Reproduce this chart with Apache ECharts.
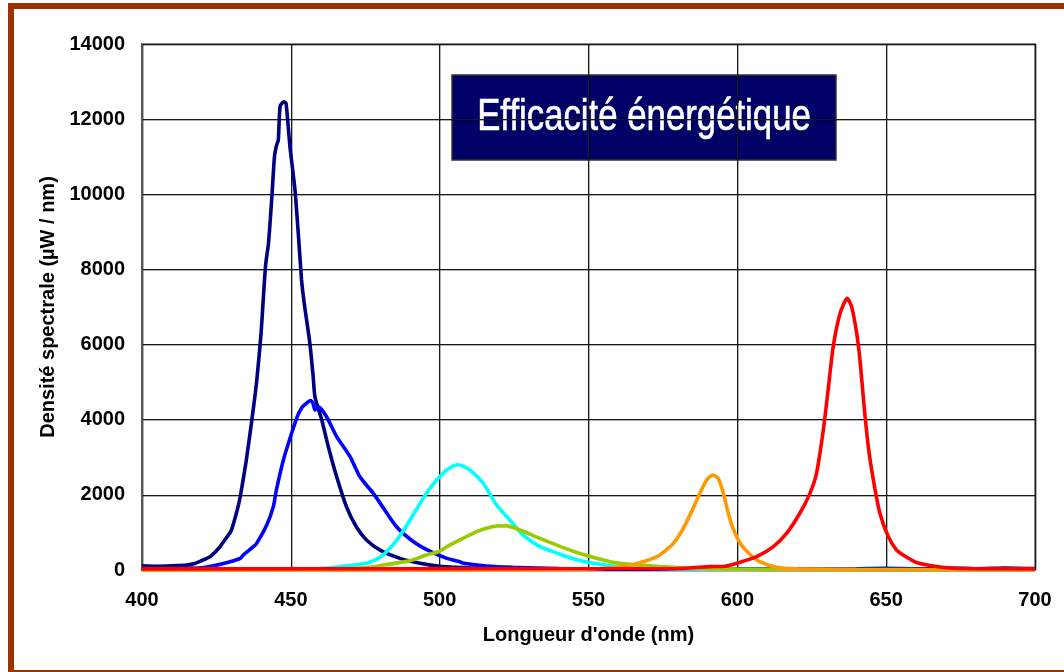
<!DOCTYPE html>
<html>
<head>
<meta charset="utf-8">
<script src="https://cdn.jsdelivr.net/npm/echarts@6/dist/echarts.min.js"></script>
<style>
  html, body { margin: 0; padding: 0; background: #ffffff; }
  #chart { width: 1064px; height: 672px; }
</style>
</head>
<body>
<div id="chart"></div>
<script>
// Spectral power density of six LEDs, [wavelength nm, µW/nm]
const ledRoyalBlue = [
  [400, 110], [405, 100], [410, 110], [415, 130], [418, 180], [421, 280], [423, 360],
  [426, 600], [428, 820], [430, 1050], [432, 1600], [433, 1950], [435, 2900], [437, 4050],
  [438.5, 5000], [440, 6300], [441.5, 8100], [442.5, 8700], [443.6, 9900], [444.5, 11000],
  [445.2, 11300], [445.8, 11450], [446.4, 12350], [447.7, 12460], [448.4, 12420],
  [449.7, 11270], [451.4, 10110], [452.5, 8960], [453.6, 7720], [454.5, 7100],
  [456.4, 6030], [457.5, 5150], [458.1, 4610], [460.4, 3990], [462.6, 3280], [465.4, 2480],
  [468.7, 1680], [472, 1150], [475.4, 800], [480, 530], [486.7, 310], [493.4, 180],
  [500, 100], [510, 60], [520, 40], [540, 30], [560, 25], [600, 20], [640, 35], [650, 45],
  [660, 30], [670, 50], [680, 35], [690, 55], [700, 40]
];
const ledBlue = [
  [400, 20], [420, 60], [424, 110], [429.6, 220], [433, 310], [434, 400], [437.4, 620],
  [438.5, 710], [441.9, 1200], [444.1, 1680], [445.2, 2150], [447.5, 2930], [449.7, 3500],
  [452, 4050], [453.5, 4300], [455.3, 4440], [456.6, 4510], [457.4, 4450], [458.1, 4260],
  [459.2, 4350], [462, 4080], [465.4, 3550], [469.9, 3020], [473.2, 2480], [477.7, 2040],
  [480, 1780], [485.5, 1150], [491.1, 760], [496.7, 500], [502.4, 310], [506.8, 220],
  [508, 180], [515.7, 106], [524.6, 70], [540, 40], [560, 25], [600, 20], [700, 15]
];
const ledCyan = [
  [400, 0], [460, 40], [466.5, 90], [475.4, 178], [480, 340], [484, 640], [487, 950],
  [491, 1450], [494, 1850], [497, 2200], [501, 2570], [503.5, 2720], [505.9, 2800],
  [508, 2760], [510.2, 2660], [514.6, 2310], [519.1, 1730], [523.6, 1330], [528, 930],
  [533.7, 620], [540.4, 420], [547, 250], [553.8, 150], [560, 90], [570, 50], [580, 30],
  [600, 20], [700, 10]
];
const ledGreen = [
  [400, 0], [460, 20], [475, 60], [481, 130], [489, 230], [491, 270], [495.6, 400],
  [500, 500], [502.4, 620], [506.8, 800], [512.4, 1020], [516, 1120], [519.1, 1170],
  [522.5, 1175], [527, 1065], [533.7, 840], [540.4, 630], [547.1, 440], [553.8, 290],
  [557.2, 220], [560.6, 178], [567.3, 130], [574, 90], [585, 45], [600, 20], [620, 10], [700, 5]
];
const ledAmber = [
  [400, 0], [540, 10], [555, 40], [562.8, 106], [568.4, 220], [574, 400], [578.5, 710],
  [581.8, 1100], [585.2, 1650], [587.4, 2040], [589.7, 2395], [591.7, 2530], [593.6, 2440],
  [595.3, 2040], [597, 1500], [598.6, 1100], [600.9, 720], [604.2, 420], [607.5, 220],
  [613.2, 70], [620, 30], [640, 10], [700, 5]
];
const ledRed = [
  [400, 30], [580, 40], [590.8, 90], [596, 100], [599.8, 178], [606.5, 355], [612.1, 620],
  [616.6, 980], [621, 1510], [624.4, 2040], [626.6, 2570], [628.9, 3730], [630.5, 4790],
  [632.2, 5940], [634.5, 6830], [636.9, 7230], [638.4, 7010], [640.1, 6300], [641.2, 5590],
  [642.6, 4350], [644, 3280], [645.7, 2395], [647.9, 1510], [650.7, 890], [653.5, 530],
  [655.7, 400], [660.2, 200], [665.8, 106], [671.4, 53], [680, 35], [700, 30]
];

const seriesData = [ledRoyalBlue, ledBlue, ledCyan, ledGreen, ledAmber, ledRed];
const seriesColors = ['#000080', '#0000ff', '#00ffff', '#99cc00', '#ff9900', '#ff0000'];

const xRange = { min: 400, max: 700, step: 50 };
const yRange = { min: 0, max: 14000, step: 2000 };

const chart = echarts.init(document.getElementById('chart'), null, { renderer: 'canvas' });

const labelFont = { fontFamily: 'Liberation Sans, Arial, sans-serif', fontWeight: 'bold', color: '#000' };

chart.setOption({
  backgroundColor: '#ffffff',
  animation: false,
  grid: {
    left: 142, right: 29, top: 44, bottom: 102,
    show: true, borderColor: '#8a8a8a', borderWidth: 2, backgroundColor: 'transparent'
  },
  xAxis: {
    type: 'value', min: xRange.min, max: xRange.max, interval: xRange.step,
    name: "Longueur d'onde (nm)", nameLocation: 'middle', nameGap: 55,
    nameTextStyle: Object.assign({ fontSize: 20 }, labelFont),
    axisLine: { show: false },
    axisTick: { show: false },
    axisLabel: Object.assign({ fontSize: 20, margin: 20, formatter: v => String(v) }, labelFont),
    splitLine: { show: true, lineStyle: { color: '#1a1a1a', width: 1, shadowColor: 'rgba(0,0,0,0.3)', shadowOffsetX: 1 } }
  },
  yAxis: {
    type: 'value', min: yRange.min, max: yRange.max, interval: yRange.step,
    name: 'Densité spectrale (µW / nm)', nameLocation: 'middle', nameGap: 80, nameRotate: 90,
    nameTextStyle: Object.assign({ fontSize: 20 }, labelFont),
    axisLine: { show: true, lineStyle: { color: '#555', width: 2 } },
    axisTick: { show: false },
    axisLabel: Object.assign({ fontSize: 20, margin: 17, formatter: v => String(v) }, labelFont),
    splitLine: { show: true, lineStyle: { color: '#1a1a1a', width: 1, shadowColor: 'rgba(0,0,0,0.3)', shadowOffsetY: 1 } }
  },
  series: seriesData.map((d, i) => ({
    type: 'line',
    data: d,
    showSymbol: false,
    smooth: 0.2,
    z: 2 + i,
    lineStyle: { color: seriesColors[i], width: 3.6 },
    itemStyle: { color: seriesColors[i] }
  })),
  graphic: [
    {
      type: 'rect', z: 200, silent: true,
      shape: { x: 11, y: 6, width: 1080, height: 667 },
      style: { fill: 'none', stroke: '#993300', lineWidth: 6 }
    },
    {
      type: 'group', z: 150,
      children: [
        {
          type: 'rect',
          shape: { x: 452, y: 75, width: 384, height: 85 },
          style: { fill: '#000066', stroke: '#333333', lineWidth: 1.5 }
        },
        {
          type: 'text',
          x: 644, y: 118, scaleX: 0.79,
          style: {
            text: 'Efficacité énergétique',
            fill: '#ffffff',
            stroke: '#ffffff',
            lineWidth: 0.6,
            font: '44px "Liberation Sans", Arial, sans-serif',
            textAlign: 'center', textVerticalAlign: 'middle'
          }
        }
      ]
    }
  ]
});
</script>
</body>
</html>
